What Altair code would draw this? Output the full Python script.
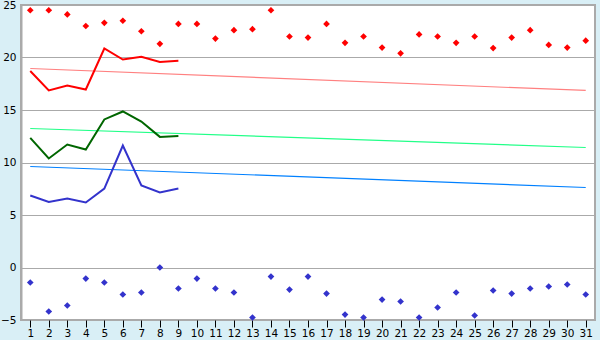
import altair as alt
import pandas as pd

days = list(range(1, 32))
rec_high = [24.5, 24.5, 24.1, 23.0, 23.3, 23.5, 22.5, 21.3, 23.2, 23.2,
            21.8, 22.6, 22.7, 24.5, 22.0, 21.9, 23.2, 21.4, 22.0, 20.95,
            20.4, 22.2, 22.0, 21.4, 22.0, 20.9, 21.9, 22.6, 21.2, 20.95, 21.6]
rec_low = [-1.43, -4.19, -3.62, -1.05, -1.43, -2.57, -2.38, 0.0, -2.0, -1.05,
           -2.0, -2.38, -4.76, -0.86, -2.1, -0.86, -2.48, -4.48, -4.76, -3.05,
           -3.24, -4.76, -3.81, -2.38, -4.57, -2.19, -2.48, -2.0, -1.81, -1.62, -2.57]
cur_days = list(range(1, 10))
cur_max = [18.72, 16.86, 17.33, 16.95, 20.86, 19.81, 20.06, 19.58, 19.68]
cur_mean = [12.34, 10.38, 11.71, 11.24, 14.1, 14.86, 13.9, 12.44, 12.53]
cur_min = [6.86, 6.25, 6.57, 6.19, 7.52, 11.62, 7.81, 7.14, 7.52]
trend_days = [1, 31]
trend_max = [18.95, 16.86]
trend_mean = [13.24, 11.43]
trend_min = [9.62, 7.62]

xs = alt.Scale(domain=[0.5, 31.5], nice=False, zero=False)
ys = alt.Scale(domain=[-5, 25], nice=False, zero=False)

xax = alt.X("d:Q", scale=xs, axis=alt.Axis(values=days, grid=False, domain=False,
            tickColor="black", tickSize=7, tickWidth=1, labelPadding=1,
            labelFontSize=10.5, labelFont="DejaVu Sans", labelColor="black",
            title=None, labelFlush=False, labelOverlap=False))
yax = alt.Y("v:Q", scale=ys, axis=alt.Axis(values=[-5, 0, 5, 10, 15, 20, 25],
            grid=True, gridColor="#aaaaaa", gridWidth=1, domain=True,
            domainColor="#aaaaaa", domainWidth=2, ticks=False, labelPadding=5,
            labelFontSize=10.5, labelFont="DejaVu Sans", labelColor="black",
            title=None, labelFlush=False))

def df(x, y):
    return pd.DataFrame({"d": x, "v": y})

def pts(x, y, color):
    return alt.Chart(df(x, y)).mark_point(shape="diamond", filled=True, size=45,
        color=color, opacity=1).encode(x=xax, y=yax)

def line(x, y, color, w):
    return alt.Chart(df(x, y)).mark_line(color=color, strokeWidth=w).encode(x=xax, y=yax)

chart = alt.layer(
    pts(days, rec_high, "#ff0000"),
    line(trend_days, trend_max, "#ff8080", 1.2),
    line(trend_days, trend_mean, "#22ff88", 1.2),
    line(trend_days, trend_min, "#0080ff", 1.2),
    line(cur_days, cur_max, "#ff0000", 2),
    line(cur_days, cur_mean, "#006600", 2),
    line(cur_days, cur_min, "#3333cc", 2),
    pts(days, rec_low, "#3333cc"),
).properties(
    width=574, height=315,
    autosize=alt.AutoSizeParams(type="none"),
    padding={"left": 21, "top": 5, "right": 5, "bottom": 20},
    background="#d9eff6",
).configure_view(fill="white", stroke="#aaaaaa", strokeWidth=2)

chart.save("out.html", embed_options={"renderer": "svg", "actions": False})
